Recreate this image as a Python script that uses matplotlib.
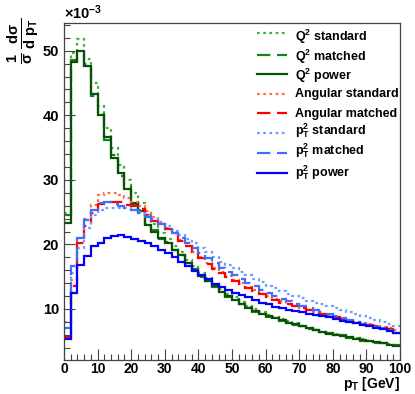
"""
plot.py - pT spectra for the different shower starting scales (ROOT-like style).
"""
import matplotlib

matplotlib.use("Agg")
import matplotlib.pyplot as plt  # noqa: E402
from matplotlib.lines import Line2D  # noqa: E402
import numpy as np  # noqa: E402

# bin edges in GeV (50 bins of 2 GeV)
edges = np.linspace(0, 100, 51)

# values in units of 1e-3
q2_standard = [24.8, 49.6, 51.8, 48.8, 45.0, 41.4, 38.0, 34.9, 32.3, 30.0,
               27.9, 26.4, 24.5, 23.1, 21.8, 20.9, 19.8, 18.8, 17.6, 16.6,
               15.6, 14.8, 13.9, 13.1, 12.4, 11.8, 11.1, 10.5, 10.0, 9.5,
               9.1, 8.8, 8.5, 8.1, 7.8, 7.4, 7.1, 6.8, 6.5, 6.3,
               6.1, 5.9, 5.7, 5.5, 5.3, 5.1, 4.9, 4.7, 4.6, 4.4]
q2_matched = [24.5, 48.6, 49.5, 47.9, 43.0, 40.5, 36.2, 33.9, 30.6, 28.9,
              26.1, 25.4, 23.2, 22.2, 20.9, 20.4, 19.1, 18.4, 17.1, 16.2,
              15.0, 14.4, 13.4, 12.8, 11.9, 11.5, 10.7, 10.3, 9.6, 9.3,
              8.8, 8.7, 8.2, 8.0, 7.5, 7.4, 6.9, 6.8, 6.3, 6.3,
              5.9, 5.9, 5.5, 5.5, 5.1, 5.1, 4.8, 4.8, 4.4, 4.4]
q2_power = [23.3, 48.3, 50.0, 47.6, 43.3, 40.1, 36.7, 33.4, 31.0, 28.6,
            26.4, 25.2, 23.0, 22.0, 21.0, 20.3, 19.2, 18.3, 17.2, 16.1,
            15.1, 14.3, 13.5, 12.7, 12.0, 11.4, 10.8, 10.2, 9.7, 9.2,
            8.9, 8.6, 8.3, 7.9, 7.6, 7.3, 7.0, 6.7, 6.4, 6.2,
            6.0, 5.8, 5.6, 5.4, 5.2, 5.0, 4.9, 4.7, 4.5, 4.3]
ang_standard = [5.8, 14.5, 21.0, 24.0, 26.1, 27.6, 27.9, 27.9, 27.7, 27.2,
                26.6, 26.0, 25.2, 24.3, 23.5, 22.6, 21.7, 20.7, 19.8, 18.9,
                18.0, 17.2, 16.4, 15.7, 15.1, 14.5, 14.0, 13.4, 12.9, 12.4,
                12.0, 11.6, 11.2, 10.8, 10.5, 10.2, 9.9, 9.6, 9.3, 9.0,
                8.8, 8.5, 8.3, 8.0, 7.8, 7.6, 7.4, 7.2, 7.0, 6.8]
ang_matched = [5.6, 13.5, 20.2, 22.8, 24.9, 26.3, 26.6, 26.6, 26.5, 26.1,
               25.9, 25.5, 24.6, 23.7, 23.1, 22.4, 21.6, 20.6, 19.7, 18.8,
               17.9, 17.0, 16.2, 15.5, 14.9, 14.4, 13.8, 13.3, 12.8, 12.3,
               11.9, 11.4, 11.0, 10.7, 10.4, 10.1, 9.8, 9.5, 9.2, 8.9,
               8.7, 8.4, 8.2, 7.9, 7.7, 7.5, 7.3, 7.1, 6.9, 6.6]
pt2_standard = [8.0, 15.5, 19.5, 22.5, 24.5, 25.3, 25.7, 25.7, 25.6, 25.6,
                25.3, 25.0, 24.4, 23.9, 23.3, 22.8, 22.1, 21.4, 20.8, 20.2,
                19.5, 18.8, 18.1, 17.3, 16.8, 16.3, 15.7, 15.2, 14.7, 14.2,
                13.6, 13.2, 12.8, 12.4, 12.0, 11.7, 11.3, 11.0, 10.7, 10.4,
                10.1, 9.8, 9.5, 9.2, 8.9, 8.6, 8.3, 8.0, 7.7, 7.4]
pt2_matched = [7.0, 16.6, 21.0, 23.8, 25.3, 26.4, 26.6, 26.3, 26.0, 25.7,
               25.3, 24.9, 24.3, 23.8, 23.2, 22.5, 21.8, 21.0, 20.2, 19.4,
               18.7, 17.9, 17.1, 16.3, 15.7, 15.2, 14.6, 14.1, 13.5, 13.0,
               12.5, 12.0, 11.6, 11.2, 10.8, 10.5, 10.1, 9.8, 9.5, 9.2,
               8.9, 8.6, 8.3, 8.0, 7.7, 7.5, 7.2, 7.0, 6.7, 6.3]
pt2_power = [5.4, 12.5, 16.8, 18.2, 19.7, 20.2, 21.0, 21.3, 21.5, 21.1,
             20.9, 20.6, 20.2, 19.7, 19.2, 18.6, 18.1, 17.3, 16.6, 15.9,
             15.2, 14.6, 13.9, 13.4, 12.9, 12.5, 12.1, 11.8, 11.4, 11.0,
             10.7, 10.3, 10.1, 9.9, 9.7, 9.5, 9.3, 9.1, 8.9, 8.7,
             8.5, 8.2, 8.0, 7.8, 7.5, 7.3, 7.1, 6.9, 6.6, 6.3]

labels = [
    r"Q$^{\mathrm{2}}$ standard",
    r"Q$^{\mathrm{2}}$ matched",
    r"Q$^{\mathrm{2}}$ power",
    "Angular standard",
    "Angular matched",
    r"p$_{\mathrm{T}}^{\mathrm{2}}$ standard",
    r"p$_{\mathrm{T}}^{\mathrm{2}}$ matched",
    r"p$_{\mathrm{T}}^{\mathrm{2}}$ power",
]
series = [q2_standard, q2_matched, q2_power, ang_standard, ang_matched,
          pt2_standard, pt2_matched, pt2_power]
colors = ["#3cae3c", "#118811", "#0b4f0b", "#ff6a3d", "#ff0000",
          "#6f9bff", "#3f6fff", "#0000ff"]
DOT = (0, (1.2, 1.6))
DASH = (0, (6, 3))
styles = [DOT, DASH, "-", DOT, DASH, DOT, DASH, "-"]

# legend layout in figure pixels: line y, text baseline y
W, H = 415, 394
leg_line_y = [33, 55, 74, 94, 113, 133, 153, 173]
leg_text_y = [41, 61, 80, 97.5, 117, 135, 155, 176]

plt.rcParams["font.family"] = "Liberation Sans"
plt.rcParams["font.weight"] = "bold"
plt.rcParams["mathtext.fontset"] = "custom"
plt.rcParams["mathtext.rm"] = "Liberation Sans:bold"
plt.rcParams["mathtext.it"] = "Liberation Sans:bold"
plt.rcParams["mathtext.bf"] = "Liberation Sans:bold"

fig = plt.figure(figsize=(W / 100, H / 100), dpi=100)
ax = fig.add_axes([64 / W, 1 - 360 / H, 336 / W, 337 / H])

for vals, col, ls in zip(series, colors, styles):
    ax.stairs(vals, edges, color=col, linestyle=ls, linewidth=1.6,
              baseline=None)

ax.set_xlim(0, 100)
ax.set_ylim(2.1, 54.3)
ax.set_xticks(np.arange(0, 101, 10))
ax.set_xticks(np.arange(0, 101, 2), minor=True)
ax.set_yticks(np.arange(10, 51, 10))
ax.set_yticks(np.arange(4, 55, 2), minor=True)
ax.tick_params(which="both", direction="in", top=False, right=False,
               labelsize=10.5, width=0.8, color="#444444")
ax.tick_params(which="major", length=8)
ax.tick_params(which="minor", length=4)
ax.tick_params(axis="x", pad=1.5, labelsize=10)
for lab in ax.get_xticklabels() + ax.get_yticklabels():
    lab.set_fontweight("bold")
for sp in ax.spines.values():
    sp.set_color("#444444")
    sp.set_linewidth(0.9)

ax.text(0.0, 1.003, r"$\times$10$^{\mathrm{-3}}$", transform=ax.transAxes,
        ha="left", va="bottom", fontsize=10.5)
fig.text(400 / W, 1 - 393 / H, r"p$_{\mathrm{T}}$ [GeV]",
         ha="right", va="bottom", fontsize=10)
fig.text(23 / W, 1 - 17 / H,
         r"$\frac{1}{\sigma}\,\frac{d\sigma}{d\ p_{\mathrm{T}}}$",
         rotation=90, ha="center", va="top", fontsize=15)

# legend drawn entry by entry so the row pitch follows the reference
for col, ls, lab, ly, ty in zip(colors, styles, labels, leg_line_y, leg_text_y):
    fig.add_artist(Line2D([257 / W, 287 / W], [1 - ly / H, 1 - ly / H],
                          transform=fig.transFigure, color=col,
                          linestyle=ls, linewidth=1.6))
    fig.text(295 / W, 1 - ty / H, lab, ha="left", va="baseline", fontsize=9)

fig.savefig("out.png", dpi=100)
plt.close(fig)
